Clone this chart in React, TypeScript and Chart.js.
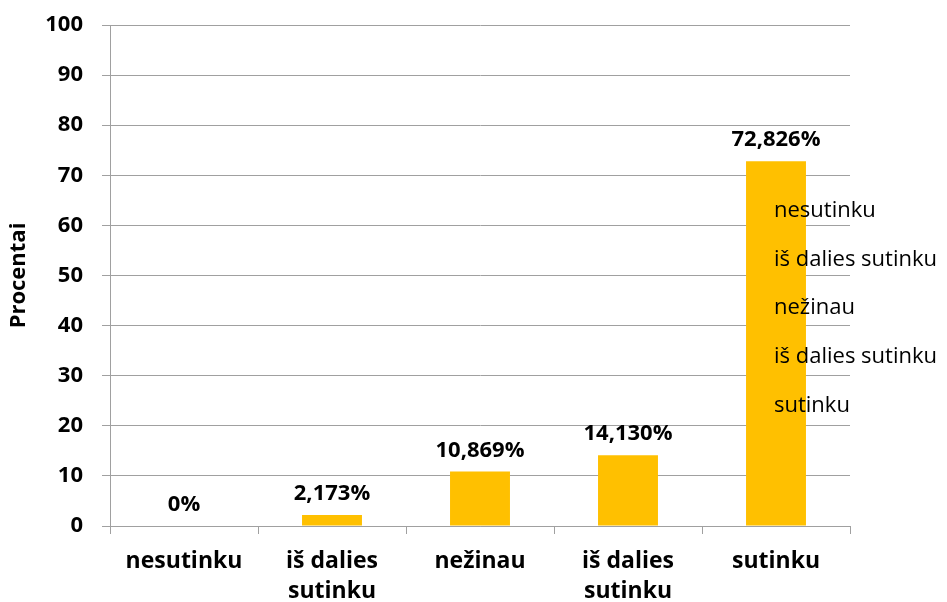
import React, { useEffect, useRef } from "react";
import { Chart, registerables } from "chart.js";

Chart.register(...registerables);

const categories: (string | string[])[] = [
  "nesutinku",
  ["iš dalies", "sutinku"],
  "nežinau",
  ["iš dalies", "sutinku"],
  "sutinku",
];
const values: number[] = [0, 2.173, 10.869, 14.13, 72.826];
const legendLabels: string[] = [
  "nesutinku",
  "iš dalies sutinku",
  "nežinau",
  "iš dalies sutinku",
  "sutinku",
];
const yTitle = "Procentai";

const FONT = "'Open Sans', 'Noto Sans', sans-serif";

function fmt(v: number): string {
  if (v === 0) return "0%";
  return v.toFixed(3).replace(".", ",") + "%";
}

const dataLabelPlugin = {
  id: "dataLabels",
  afterDatasetsDraw(chart: any) {
    const ctx = chart.ctx;
    const meta = chart.getDatasetMeta(0);
    ctx.save();
    ctx.font = `bold 22px ${FONT}`;
    ctx.fillStyle = "#000";
    ctx.textAlign = "center";
    ctx.textBaseline = "alphabetic";
    meta.data.forEach((bar: any, i: number) => {
      ctx.fillText(fmt(values[i]), bar.x, bar.y - 15);
    });
    ctx.restore();
  },
};

const textLegendPlugin = {
  id: "textLegend",
  afterDraw(chart: any) {
    const ctx = chart.ctx;
    const area = chart.chartArea;
    ctx.save();
    ctx.font = `22px ${FONT}`;
    ctx.fillStyle = "#000";
    ctx.textAlign = "left";
    ctx.textBaseline = "middle";
    const x0 = area.right - 76;
    const y0 = area.top + 186;
    const step = 48.6;
    legendLabels.forEach((t, i) => {
      ctx.fillText(t, x0, y0 + i * step);
    });
    ctx.restore();
  },
};

export default function App() {
  const ref = useRef<HTMLCanvasElement | null>(null);
  useEffect(() => {
    document.body.style.margin = "0";
    const canvas = ref.current!;
    const chart = new Chart(canvas, {
      type: "bar",
      data: {
        labels: categories as any,
        datasets: [
          {
            data: values,
            backgroundColor: "#FFC000",
            borderWidth: 0,
            categoryPercentage: 1,
            barPercentage: 0.405,
          },
        ],
      },
      options: {
        animation: false,
        responsive: false,
        maintainAspectRatio: false,
        layout: { padding: { top: 25, right: 97, left: 0, bottom: 0 } },
        plugins: {
          legend: { display: false },
          tooltip: { enabled: false },
        },
        scales: {
          x: {
            offset: true,
            grid: {
              display: true,
              drawOnChartArea: false,
              drawTicks: true,
              tickLength: 8,
              color: "#a0a0a0",
              offset: true,
            },
            border: { display: true, color: "#a0a0a0" },
            ticks: {
              color: "#000",
              font: { family: FONT, size: 23, weight: "bold", lineHeight: 1.3 },
              padding: 13,
              maxRotation: 0,
              autoSkip: false,
            },
            afterFit(scale: any) {
              scale.height = 76;
              scale.paddingLeft = 0;
              scale.paddingRight = 0;
            },
          },
          y: {
            min: 0,
            max: 100,
            ticks: {
              stepSize: 10,
              color: "#000",
              font: { family: FONT, size: 22, weight: "bold" },
              padding: 19,
            },
            grid: {
              color: "#a0a0a0",
              tickLength: 8,
              drawTicks: true,
            },
            border: { display: true, color: "#a0a0a0" },
            title: {
              display: true,
              text: yTitle,
              color: "#000",
              font: { family: FONT, size: 22, weight: "bold" },
              padding: { top: 6, bottom: 0 },
            },
            afterFit(scale: any) {
              scale.width = 110;
              scale.paddingTop = 0;
              scale.paddingBottom = 0;
            },
          },
        },
      } as any,
      plugins: [dataLabelPlugin, textLegendPlugin],
    });
    return () => chart.destroy();
  }, []);
  return (
    <div style={{ position: "relative", width: 947, height: 602 }}>
      <canvas ref={ref} width={947} height={602} style={{ display: "block" }} />
    </div>
  );
}
